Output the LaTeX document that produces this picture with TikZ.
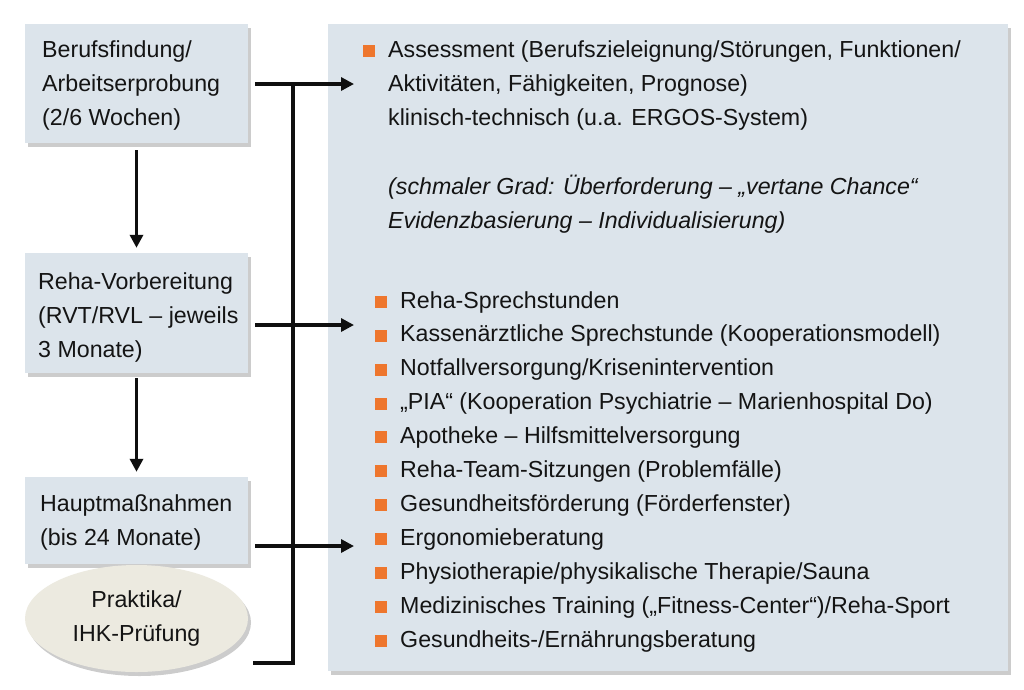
\documentclass[tikz,border=0pt]{standalone}
\usepackage{fontspec}
\setmainfont{Liberation Sans}
\usetikzlibrary{shapes.geometric,shadows,arrows.meta}
\definecolor{boxfill}{RGB}{220,228,235}
\definecolor{ellfill}{RGB}{236,234,224}
\definecolor{bulorange}{RGB}{238,118,45}
\definecolor{textcol}{RGB}{20,20,20}
\definecolor{linecol}{RGB}{15,15,15}
\begin{document}
\begin{tikzpicture}[x=1pt,y=-1pt,
  shad/.style={drop shadow={shadow xshift=3pt,shadow yshift=-4pt,fill=black,opacity=0.2}},
  box/.style={rectangle,fill=boxfill,minimum width=223pt,inner sep=0pt,shad},
  panel/.style={rectangle,fill=boxfill,minimum width=680pt,minimum height=647pt,inner sep=0pt,shad},
  ell/.style={ellipse,fill=ellfill,minimum width=223pt,minimum height=107pt,inner sep=0pt,shad,
     align=center,font=\fontsize{23.2}{34}\selectfont,text=textcol},
  txt/.style={anchor=base west,inner sep=0pt,font=\fontsize{23.2}{34}\selectfont,text=textcol},
  itxt/.style={anchor=base west,inner sep=0pt,font=\fontsize{23.2}{34}\selectfont\itshape,text=textcol},
  bul/.style={rectangle,fill=bulorange,minimum size=12pt,inner sep=0pt,anchor=south west},
  conn/.style={line width=3.2pt,draw=linecol},
  arr/.style={conn,-{Triangle[length=13pt,width=13pt]}}]
\useasboundingbox (0,0) rectangle (1024,689);
\fill[white] (0,0) rectangle (1024,689);

% right panel
\node[panel] (panel) at (668,347.5) {};

% left boxes
\node[box,minimum height=119pt] (b1) at (136.5,83.5) {};
\node[box,minimum height=120pt] (b2) at (136.5,313) {};
\node[box,minimum height=87pt] (b3) at (136.5,520.5) {};
\node[ell] (e4) at (136.5,618.5) {Praktika/\\IHK-Prüfung};

% box texts
\node[txt] (t1a) at (42,57) {Berufsfindung/};
\node[txt] (t1b) at (42,91) {Arbeitserprobung};
\node[txt] (t1c) at (42,125) {(2/6 Wochen)};
\node[txt] (t2a) at (38,289) {Reha-Vorbereitung};
\node[txt] (t2b) at (38,323) {(RVT/RVL – jeweils};
\node[txt] (t2c) at (38,357) {3 Monate)};
\node[txt] (t3a) at (40,511) {Hauptmaßnahmen};
\node[txt] (t3b) at (40,545) {(bis 24 Monate)};

% assessment block
\node[bul] (bA) at (363,57) {};
\node[txt] (pA1) at (388,57) {Assessment (Berufszieleignung/Störungen, Funktionen/};
\node[txt] (pA2) at (388,91) {Aktivitäten, Fähigkeiten, Prognose)};
\node[txt] (pA3) at (388,125) {klinisch-technisch (u.a. ERGOS-System)};
\node[itxt] (pA4) at (388,194) {(schmaler Grad: Überforderung – „vertane Chance“};
\node[itxt] (pA5) at (388,228) {Evidenzbasierung – Individualisierung)};

% bullet list
\foreach \t [count=\i] in {{Reha-Sprechstunden},
  {Kassenärztliche Sprechstunde (Kooperationsmodell)},
  {Notfallversorgung/Krisenintervention},
  {„PIA“ (Kooperation Psychiatrie – Marienhospital Do)},
  {Apotheke – Hilfsmittelversorgung},
  {Reha-Team-Sitzungen (Problemfälle)},
  {Gesundheitsförderung (Förderfenster)},
  {Ergonomieberatung},
  {Physiotherapie/physikalische Therapie/Sauna},
  {Medizinisches Training („Fitness-Center“)/Reha-Sport},
  {Gesundheits-/Ernährungsberatung}}{
  \node[bul] (lb\i) at (375,{308+(\i-1)*33.9}) {};
  \node[txt] (li\i) at (400,{308+(\i-1)*33.9}) {\t};
}

% connector coordinates
\coordinate (tA) at (354,84);
\coordinate (tB) at (354,325);
\coordinate (tC) at (354,546);
\coordinate (busTop) at (293,84);
\coordinate (busBot) at (293,663);
\coordinate (eEnd) at (255,663);

% down arrows
\draw[arr,shorten <=7pt,shorten >=5pt] (b1.south) -- (b2.north);
\draw[arr,shorten <=5pt,shorten >=5pt] (b2.south) -- (b3.north);

% right arrows
\draw[arr] ([xshift=7pt]b1.east |- tA) -- (tA);
\draw[arr] ([xshift=7pt]b2.east |- tB) -- (tB);
\draw[arr] ([xshift=7pt]b3.east |- tC) -- (tC);

% bus line
\draw[conn,line cap=rect] (busTop) -- (busBot) -- (eEnd);
\end{tikzpicture}
\end{document}
